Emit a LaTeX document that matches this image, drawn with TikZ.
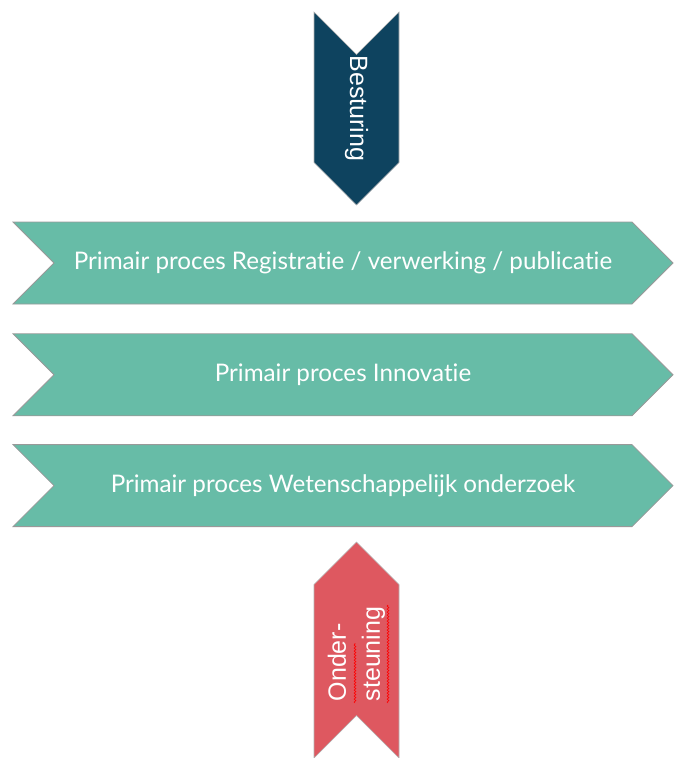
\documentclass[tikz,border=0pt]{standalone}
\usepackage{fontspec}
\usepackage{xcolor}
\usepackage{tikz}
\setmainfont{Lato}[Ligatures=NoCommon]
\newfontfamily\arialfont{Liberation Sans}
\usetikzlibrary{shapes,positioning,decorations.pathmorphing}

\definecolor{procesgreen}{RGB}{103,188,167}
\definecolor{sturingblue}{RGB}{14,67,95}
\definecolor{steunred}{RGB}{222,88,96}

\begin{document}
\begin{tikzpicture}[x=1pt,y=-1pt,
  proces node/.style={shape=signal, signal from=west, signal to=east, signal pointer angle=90,
    draw=gray!80, line width=0.8pt, fill=procesgreen, text=white, inner sep=0pt,
    minimum width=660pt, minimum height=82pt, font=\fontsize{24.2}{28}\selectfont},
  pijl node/.style={shape=signal, signal from=west, signal to=east, signal pointer angle=90,
    draw=gray!60, line width=0.6pt, text=white, inner sep=0pt,
    minimum height=85pt, font=\arialfont\fontsize{25}{34}\selectfont},
  spel wave/.style={draw=red, line width=0.6pt, decorate,
    decoration={snake, amplitude=0.9pt, segment length=3pt}}]

  \useasboundingbox (0,0) rectangle (673,758);

  \node [pijl node, fill=sturingblue, rotate=-90, minimum width=193pt] (besturing) at (356.5,108.5) {Besturing};

  \node [proces node] (registratie) at (343,263) {Primair proces Registratie / verwerking / publicatie};
  \node [proces node, below=29pt of registratie] (innovatie) {Primair proces Innovatie};
  \node [proces node, below=28pt of innovatie] (onderzoek) {Primair proces Wetenschappelijk onderzoek};

  \node [pijl node, fill=steunred, rotate=90, minimum width=216pt, align=left] (ondersteuning) at (356.5,650)
    {Onder-\\steuning\hspace*{8pt}};

  % spell check underlines
  \draw [spel wave] (355,703) -- (355,643);
  \draw [spel wave] (388,703) -- (388,605);
\end{tikzpicture}
\end{document}
